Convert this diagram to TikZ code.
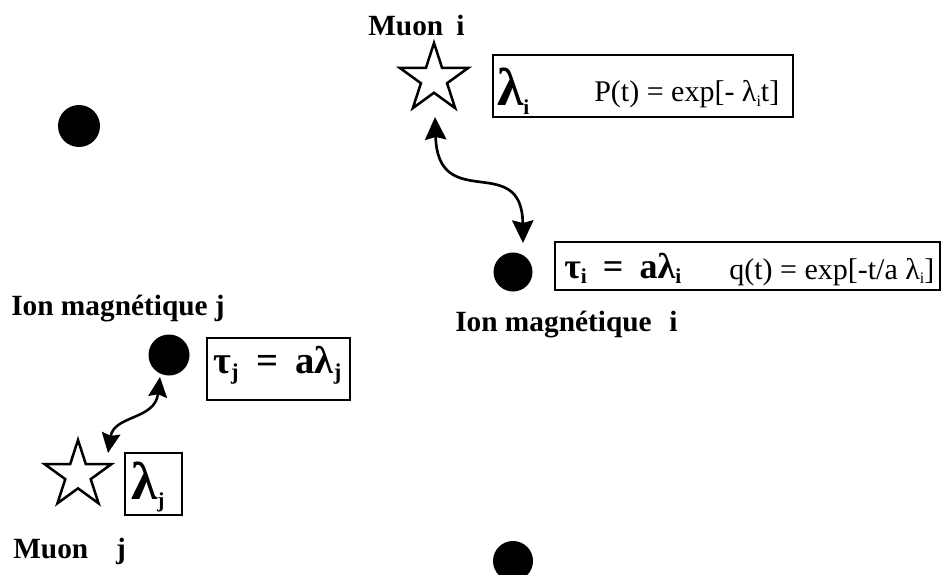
\documentclass[tikz,border=0pt]{standalone}
\usepackage{fontspec}
\setmainfont{Liberation Serif}
\usetikzlibrary{shapes.geometric,arrows.meta}
\newcommand{\fsz}[1]{\fontsize{#1}{#1}\selectfont}
\newcommand{\bsub}[2]{\raisebox{-0.35ex}{\fsz{#1}\bfseries #2}}
\newcommand{\rsub}[2]{\raisebox{-0.3ex}{\fsz{#1}#2}}
\begin{document}
\begin{tikzpicture}[x=0.75pt,y=-0.75pt,
  ion/.style={circle, fill=black, inner sep=0pt, minimum size={#1*1.5pt}},
  muon/.style={star, star points=5, star point ratio=2.618, draw=black, line width=1.9pt, inner sep=0pt, minimum size={#1*1.5pt}},
  frame/.style={draw=black, line width=0.9pt, inner sep=0pt},
  lab/.style={font=\fsz{22}\bfseries, anchor=base west, inner sep=0pt},
  txt/.style={font=\fsz{22.5}, anchor=base west, inner sep=0pt},
  big/.style={font=\fsz{40}\bfseries, anchor=base west, inner sep=0pt},
  mid/.style={font=\fsz{27}\bfseries, anchor=base west, inner sep=0pt},
  midj/.style={font=\fsz{29}\bfseries, anchor=base west, inner sep=0pt},
  link/.style={line width=2pt, arrows={Stealth[length=17pt,width=16pt,inset=2pt]-Stealth[length=17pt,width=16pt,inset=2pt]}},
  linkj/.style={line width=1.9pt, arrows={Stealth[length=15pt,width=14pt,inset=2pt]-Stealth[length=15pt,width=14pt,inset=2pt]}}
]
\useasboundingbox (0,0) rectangle (941,574);
\clip (0,0) rectangle (941,574);

% ions
\node[ion=21] (ia) at (79,126) {};
\node[ion=19.5] (ii) at (513,272) {};
\node[ion=20.5] (ij) at (169,355) {};
\node[ion=20] (ib) at (513,561) {};

% muons
\node[muon=36] (si) at (434,79) {};
\node[muon=35] (sj) at (78,475) {};

% frames
\node[frame, minimum width={300*0.75pt}, minimum height={62*0.75pt}] (bi) at (643,86) {};
\node[frame, minimum width={385*0.75pt}, minimum height={48*0.75pt}] (bt) at (747.5,266) {};
\node[frame, minimum width={143*0.75pt}, minimum height={62*0.75pt}] (btj) at (278.5,369) {};
\node[frame, minimum width={57*0.75pt}, minimum height={62*0.75pt}] (blj) at (153.5,484) {};

% frame texts
\node[big] (li) at (497,106) {λ\bsub{16}{i}};
\node[txt] (pt) at (594,102) {P(t) = exp[- λ\rsub{12}{i}t]};
\node[mid] (ti) at (564,278) {τ\bsub{16}{i}\hspace{0.45em}=\hspace{0.45em}aλ\bsub{16}{i}};
\node[txt] (qt) at (729,279) {q(t) = exp[-t/a λ\rsub{12}{i}]};
\node[midj] (tj) at (213,373) {τ\bsub{17}{j}\hspace{0.45em}=\hspace{0.45em}aλ\bsub{17}{j}};
\node[big] (lj) at (131,499) {λ\bsub{16}{j}};

% labels
\node[lab] (mi) at (368,36) {Muon\hspace{0.45em}i};
\node[lab] (nmi) at (455,331) {Ion magnétique\hspace{0.6em}i};
\node[lab] (nmj) at (11,315) {Ion magnétique j};
\node[lab] (mj) at (13,558) {Muon\hspace{0.95em}j};

% interactions
\draw[link] ([shift={(1,38)}]si.center) .. controls (438,215) and (522,150) .. ([shift={(10,-29)}]ii.center);
\draw[linkj] ([shift={(30,-22)}]sj.center) .. controls (114,415) and (155,420) .. ([shift={(-9,22)}]ij.center);
\end{tikzpicture}
\end{document}
